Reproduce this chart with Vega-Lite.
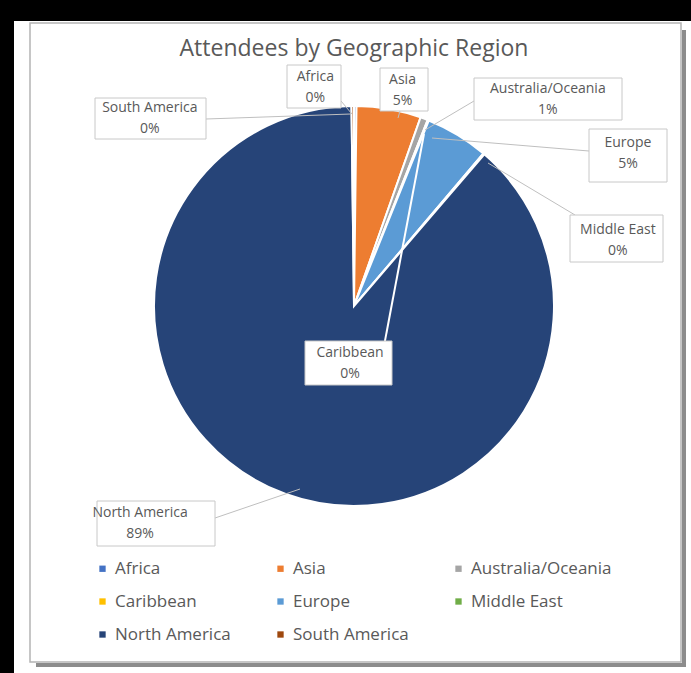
{
  "$schema": "https://vega.github.io/schema/vega-lite/v6.json",
  "background": "#000000",
  "padding": {"left": 14, "top": 20, "right": 0, "bottom": 0},
  "bounds": "flush",
  "spacing": 0,
  "config": {
    "view": {"fill": "#ffffff", "stroke": null},
    "font": "Open Sans"
  },
  "datasets": {
    "regions": [
      {"region": "Africa", "value": 2, "label": "Africa\n0%"},
      {"region": "Asia", "value": 52, "label": "Asia\n5%"},
      {"region": "Australia/Oceania", "value": 6, "label": "Australia/Oceania\n1%"},
      {"region": "Caribbean", "value": 1, "label": "Caribbean\n0%"},
      {"region": "Europe", "value": 51, "label": "Europe\n5%"},
      {"region": "Middle East", "value": 1, "label": "Middle East\n0%"},
      {"region": "North America", "value": 885, "label": "North America\n89%"},
      {"region": "South America", "value": 2, "label": "South America\n0%"}
    ]
  },
  "vconcat": [
    {
      "width": 680,
      "height": 570,
      "view": {"fill": "#ffffff", "stroke": null},
      "data": {"name": "regions"},
      "title": {
        "text": "Attendees by Geographic Region",
        "fontSize": 23,
        "font": "Open Sans",
        "fontWeight": "normal",
        "color": "#595959",
        "anchor": "middle",
        "offset": -40
      },
      "resolve": {"scale": {"shape": "independent"}},
      "layer": [
        {
          "mark": {"type": "arc", "radius": 200, "stroke": "#ffffff", "strokeWidth": 2},
          "encoding": {
            "theta": {"field": "value", "type": "quantitative", "stack": true},
            "order": {"field": "region", "type": "ordinal"},
            "color": {
              "field": "region",
              "type": "nominal",
              "scale": {
                "domain": ["Africa", "Caribbean", "North America", "Asia", "Europe", "South America", "Australia/Oceania", "Middle East"],
                "range": ["#4472C4", "#FFC000", "#264478", "#ED7D31", "#5B9BD5", "#9E480E", "#A5A5A5", "#70AD47"]
              },
              "legend": {
                "orient": "none",
                "legendX": 80,
                "legendY": 539,
                "columns": 3,
                "title": null,
                "symbolType": "square",
                "symbolSize": 40,
                "symbolStrokeWidth": 0,
                "labelFontSize": 17,
                "labelFont": "Open Sans",
                "labelColor": "#595959",
                "labelLimit": 300,
                "columnPadding": 16,
                "rowPadding": 15,
                "gridAlign": "all"
              }
            }
          }
        },
        {
          "mark": {"type": "point", "size": 4, "filled": false, "stroke": "#ffffff", "strokeWidth": 2, "opacity": 1},
          "encoding": {
            "shape": {
              "field": "region",
              "type": "nominal",
              "legend": null,
              "scale": {
                "domain": ["Africa", "Asia", "Australia/Oceania", "Caribbean", "Europe", "Middle East", "North America", "South America"],
                "range": ["M0,0", "M0,0", "M0,0", "M30,40L70,-172", "M0,0", "M0,0", "M0,0", "M0,0"]
              }
            }
          }
        },
        {
          "mark": {"type": "point", "size": 4, "filled": false, "stroke": "#bfbfbf", "strokeWidth": 1, "opacity": 1},
          "encoding": {
            "shape": {
              "field": "region",
              "type": "nominal",
              "legend": null,
              "scale": {
                "domain": ["Africa", "Asia", "Australia/Oceania", "Caribbean", "Europe", "Middle East", "North America", "South America"],
                "range": [
                  "M-13,-205L-2,-192",
                  "M46,-195L44,-188",
                  "M120,-205L71,-176",
                  "M0,0",
                  "M235,-155L78,-168",
                  "M221,-91L134,-143",
                  "M-139,212L-54,183",
                  "M-148,-187L-3,-192"
                ]
              }
            }
          }
        },
        {
          "mark": {"type": "point", "size": 4, "filled": true, "fill": "#ffffff", "stroke": "#c8c8c8", "strokeWidth": 1, "opacity": 1},
          "encoding": {
            "shape": {
              "field": "region",
              "type": "nominal",
              "legend": null,
              "scale": {
                "domain": ["Africa", "Asia", "Australia/Oceania", "Caribbean", "Europe", "Middle East", "North America", "South America"],
                "range": [
                  "M-67,-241H-13V-198H-67Z",
                  "M26,-238H74V-195H26Z",
                  "M120,-228H268V-186H120Z",
                  "M-49,35H38V79H-49Z",
                  "M235,-177H313V-124H235Z",
                  "M216,-91H309V-44H216Z",
                  "M-257,195H-139V240H-257Z",
                  "M-259,-208H-148V-167H-259Z"
                ]
              }
            }
          }
        },
        {
          "mark": {"type": "text", "radius": 219, "dx": -40, "dy": -10, "lineBreak": "\n", "lineHeight": 21, "fontSize": 14, "fill": "#595959", "align": "center", "baseline": "middle"},
          "encoding": {
            "theta": {"field": "value", "type": "quantitative", "stack": true},
            "order": {"field": "region", "type": "ordinal"},
            "text": {"condition": {"test": "datum.region === 'Africa'", "field": "label"}, "value": ""}
          }
        },
        {
          "mark": {"type": "text", "radius": 220, "dx": 10, "dy": -9, "lineBreak": "\n", "lineHeight": 21, "fontSize": 14, "fill": "#595959", "align": "center", "baseline": "middle"},
          "encoding": {
            "theta": {"field": "value", "type": "quantitative", "stack": true},
            "order": {"field": "region", "type": "ordinal"},
            "text": {"condition": {"test": "datum.region === 'Asia'", "field": "label"}, "value": ""}
          }
        },
        {
          "mark": {"type": "text", "radius": 222, "dx": 116, "dy": -9, "lineBreak": "\n", "lineHeight": 21, "fontSize": 14, "fill": "#595959", "align": "center", "baseline": "middle"},
          "encoding": {
            "theta": {"field": "value", "type": "quantitative", "stack": true},
            "order": {"field": "region", "type": "ordinal"},
            "text": {"condition": {"test": "datum.region === 'Australia/Oceania'", "field": "label"}, "value": ""}
          }
        },
        {
          "mark": {"type": "text", "radius": 0, "dx": -4, "dy": 47, "lineBreak": "\n", "lineHeight": 21, "fontSize": 14, "fill": "#595959", "align": "center", "baseline": "middle"},
          "encoding": {
            "theta": {"field": "value", "type": "quantitative", "stack": true},
            "order": {"field": "region", "type": "ordinal"},
            "text": {"condition": {"test": "datum.region === 'Caribbean'", "field": "label"}, "value": ""}
          }
        },
        {
          "mark": {"type": "text", "radius": 230, "dx": 155, "dy": 34, "lineBreak": "\n", "lineHeight": 21, "fontSize": 14, "fill": "#595959", "align": "center", "baseline": "middle"},
          "encoding": {
            "theta": {"field": "value", "type": "quantitative", "stack": true},
            "order": {"field": "region", "type": "ordinal"},
            "text": {"condition": {"test": "datum.region === 'Europe'", "field": "label"}, "value": ""}
          }
        },
        {
          "mark": {"type": "text", "radius": 240, "dx": 108, "dy": 106, "lineBreak": "\n", "lineHeight": 21, "fontSize": 14, "fill": "#595959", "align": "center", "baseline": "middle"},
          "encoding": {
            "theta": {"field": "value", "type": "quantitative", "stack": true},
            "order": {"field": "region", "type": "ordinal"},
            "text": {"condition": {"test": "datum.region === 'Middle East'", "field": "label"}, "value": ""}
          }
        },
        {
          "mark": {"type": "text", "radius": 231, "dx": -135, "dy": -10, "lineBreak": "\n", "lineHeight": 21, "fontSize": 14, "fill": "#595959", "align": "center", "baseline": "middle"},
          "encoding": {
            "theta": {"field": "value", "type": "quantitative", "stack": true},
            "order": {"field": "region", "type": "ordinal"},
            "text": {"condition": {"test": "datum.region === 'North America'", "field": "label"}, "value": ""}
          }
        },
        {
          "mark": {"type": "text", "radius": 188, "dx": -203, "dy": -10, "lineBreak": "\n", "lineHeight": 21, "fontSize": 14, "fill": "#595959", "align": "center", "baseline": "middle"},
          "encoding": {
            "theta": {"field": "value", "type": "quantitative", "stack": true},
            "order": {"field": "region", "type": "ordinal"},
            "text": {"condition": {"test": "datum.region === 'South America'", "field": "label"}, "value": ""}
          }
        }
      ]
    },
    {
      "width": 680,
      "height": 90,
      "view": {"fill": "#ffffff", "stroke": null},
      "data": {"values": [{"panel": "chart area"}]},
      "layer": [
        {
          "mark": {"type": "point", "size": 4, "filled": false, "stroke": "#8c8c8c", "strokeWidth": 4, "opacity": 1, "shape": "M330,-606V29H-318"}
        },
        {
          "mark": {"type": "point", "size": 4, "filled": false, "stroke": "#b4b4b4", "strokeWidth": 1.5, "opacity": 1, "shape": "M-324,-613H327V26H-324Z"}
        }
      ]
    }
  ]
}
